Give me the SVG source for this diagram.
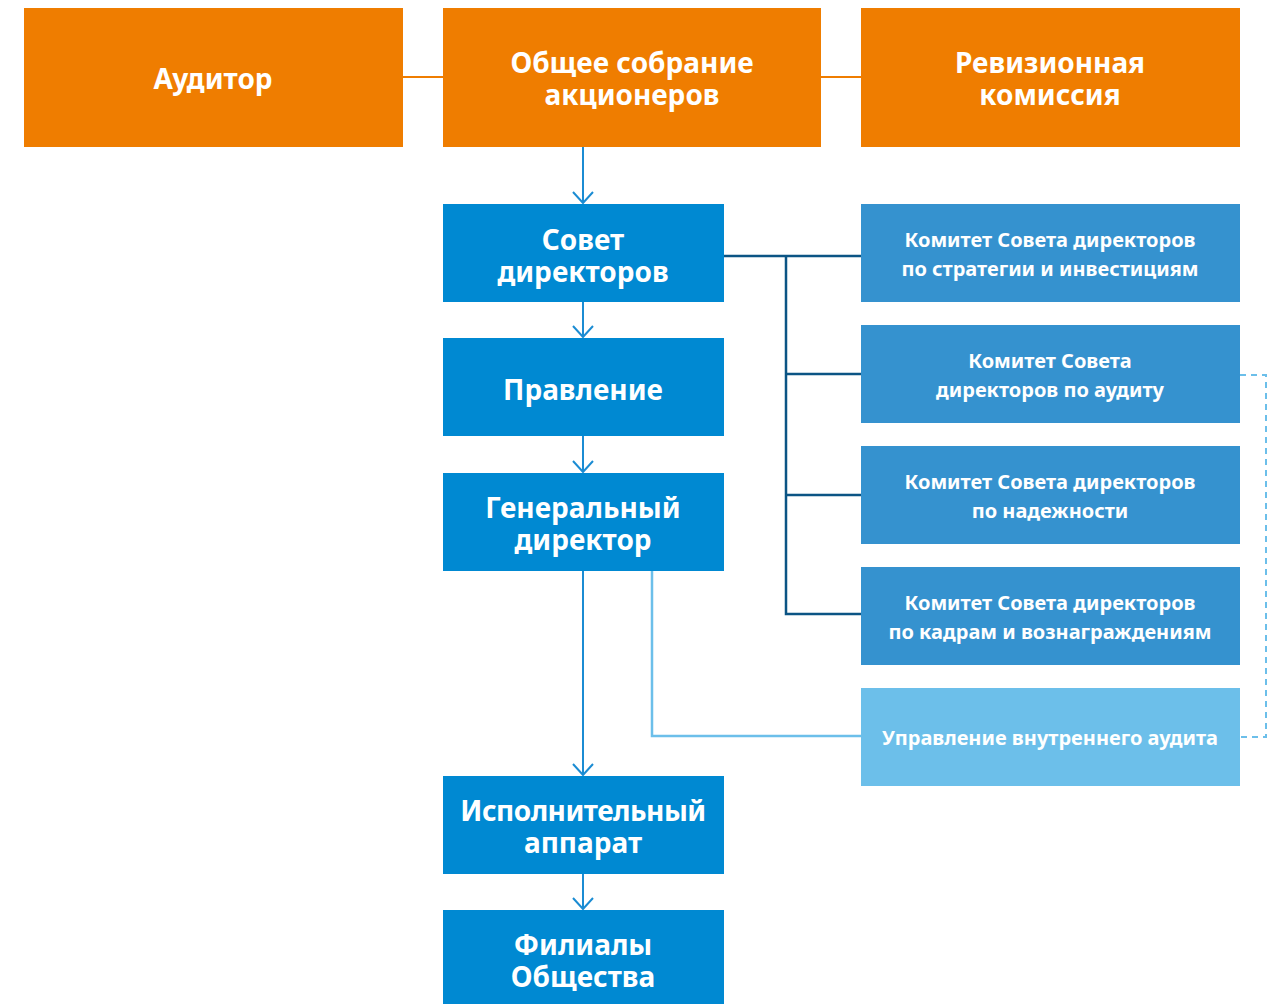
<svg xmlns="http://www.w3.org/2000/svg" width="1277" height="1004" viewBox="0 0 1277 1004">
<defs>
<style>
.or{fill:#EF7D00}
.bl{fill:#0089D2}
.cm{fill:#3592CF}
.lt{fill:#6CBFEA}
.t{font-family:"Noto Sans","Open Sans",sans-serif;font-weight:bold;fill:#fff;text-anchor:middle}
.big{font-size:28px}
.sm{font-size:20px}
.arr{stroke:#1B8CD3;stroke-width:2;fill:none}
</style>
<marker id="ah" markerWidth="16" markerHeight="24" viewBox="0 0 16 24" refX="14" refY="12" orient="auto" markerUnits="userSpaceOnUse">
<path d="M3 2 L14 12 L3 22" fill="none" stroke="#1B8CD3" stroke-width="2"/>
</marker>
</defs>
<rect width="1277" height="1004" fill="#fff"/>
<g id="connectors">
<line x1="403" y1="77" x2="443" y2="77" stroke="#EF7D00" stroke-width="2"/>
<line x1="821" y1="77" x2="861" y2="77" stroke="#EF7D00" stroke-width="2"/>
<line class="arr" x1="583" y1="147" x2="583" y2="203" marker-end="url(#ah)"/>
<line class="arr" x1="583" y1="302" x2="583" y2="337" marker-end="url(#ah)"/>
<line class="arr" x1="583" y1="436" x2="583" y2="472" marker-end="url(#ah)"/>
<line class="arr" x1="583" y1="571" x2="583" y2="775" marker-end="url(#ah)"/>
<line class="arr" x1="583" y1="874" x2="583" y2="909" marker-end="url(#ah)"/>
<g stroke="#0B5484" stroke-width="2.5" fill="none">
<line x1="724" y1="256" x2="861" y2="256"/>
<polyline points="786,256 786,614 861,614"/>
<line x1="786" y1="374" x2="861" y2="374"/>
<line x1="786" y1="495" x2="861" y2="495"/>
</g>
<polyline points="652,571 652,736 861,736" stroke="#6CBFEA" stroke-width="2.5" fill="none"/>
<polyline points="1240,375 1266,375 1266,737 1240,737" stroke="#6CBFEA" stroke-width="2" stroke-dasharray="6,5" fill="none"/>
</g>
<g id="auditor"><rect class="or" x="24" y="8" width="379" height="139"/><text class="t big" x="213" y="89">Аудитор</text></g>
<g id="general-meeting"><rect class="or" x="443" y="8" width="378" height="139"/><text class="t big" x="632" y="73">Общее собрание<tspan x="632" dy="32">акционеров</tspan></text></g>
<g id="revision"><rect class="or" x="861" y="8" width="379" height="139"/><text class="t big" x="1050" y="73">Ревизионная<tspan x="1050" dy="32">комиссия</tspan></text></g>
<g id="board"><rect class="bl" x="443" y="204" width="281" height="98"/><text class="t big" x="583" y="250">Совет<tspan x="583" dy="32">директоров</tspan></text></g>
<g id="management"><rect class="bl" x="443" y="338" width="281" height="98"/><text class="t big" x="583" y="400">Правление</text></g>
<g id="ceo"><rect class="bl" x="443" y="473" width="281" height="98"/><text class="t big" x="583" y="518">Генеральный<tspan x="583" dy="32">директор</tspan></text></g>
<g id="exec"><rect class="bl" x="443" y="776" width="281" height="98"/><text class="t big" x="583" y="821"><tspan letter-spacing="-0.5">Исполнительный</tspan><tspan x="583" dy="32">аппарат</tspan></text></g>
<g id="branches"><rect class="bl" x="443" y="910" width="281" height="94"/><text class="t big" x="583" y="955">Филиалы<tspan x="583" dy="32">Общества</tspan></text></g>
<g id="c-strategy"><rect class="cm" x="861" y="204" width="379" height="98"/><text class="t sm" x="1050" y="247">Комитет Совета директоров<tspan x="1050" dy="29">по стратегии и инвестициям</tspan></text></g>
<g id="c-audit"><rect class="cm" x="861" y="325" width="379" height="98"/><text class="t sm" x="1050" y="368">Комитет Совета<tspan x="1050" dy="29">директоров по аудиту</tspan></text></g>
<g id="c-reliability"><rect class="cm" x="861" y="446" width="379" height="98"/><text class="t sm" x="1050" y="489">Комитет Совета директоров<tspan x="1050" dy="29">по надежности</tspan></text></g>
<g id="c-hr"><rect class="cm" x="861" y="567" width="379" height="98"/><text class="t sm" x="1050" y="610">Комитет Совета директоров<tspan x="1050" dy="29">по кадрам и вознаграждениям</tspan></text></g>
<g id="internal-audit"><rect class="lt" x="861" y="688" width="379" height="98"/><text class="t sm" x="1050" y="745">Управление внутреннего аудита</text></g>
</svg>
